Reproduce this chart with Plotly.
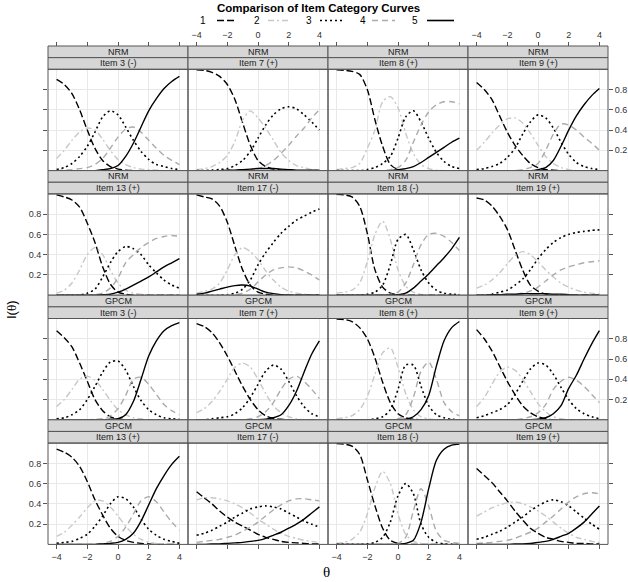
import plotly.graph_objects as go

# ---------------- data ----------------
theta = [-4, -3.5, -3, -2.5, -2, -1.5, -1, -0.5, 0, 0.5, 1, 1.5, 2, 2.5, 3, 3.5, 4]
categories = ["1", "2", "3", "4", "5"]
models = ["NRM"] * 8 + ["GPCM"] * 8
items = ["Item 3 (-)", "Item 7 (+)", "Item 8 (+)", "Item 9 (+)",
         "Item 13 (+)", "Item 17 (-)", "Item 18 (-)", "Item 19 (+)"] * 2
x_ticks = [-4, -2, 0, 2, 4]
y_ticks = [0.2, 0.4, 0.6, 0.8]

nrm_item3 = [
    [0.90, 0.85, 0.76, 0.60, 0.40, 0.22, 0.10, 0.04, 0.015, 0.005, 0, 0, 0, 0, 0, 0, 0],
    [0.12, 0.20, 0.30, 0.38, 0.42, 0.40, 0.31, 0.20, 0.11, 0.06, 0.03, 0.015, 0.01, 0.005, 0, 0, 0],
    [0.01, 0.03, 0.07, 0.14, 0.24, 0.38, 0.53, 0.59, 0.55, 0.43, 0.30, 0.19, 0.11, 0.06, 0.04, 0.02, 0.01],
    [0, 0.005, 0.01, 0.02, 0.03, 0.06, 0.12, 0.22, 0.33, 0.41, 0.43, 0.38, 0.30, 0.22, 0.15, 0.10, 0.06],
    [0, 0, 0, 0, 0, 0, 0.01, 0.02, 0.05, 0.14, 0.27, 0.43, 0.59, 0.71, 0.81, 0.88, 0.93],
]
nrm_item7 = [
    [0.995, 0.99, 0.97, 0.93, 0.85, 0.70, 0.47, 0.25, 0.10, 0.04, 0.015, 0.005, 0, 0, 0, 0, 0],
    [0.01, 0.02, 0.04, 0.08, 0.15, 0.29, 0.50, 0.59, 0.52, 0.42, 0.30, 0.18, 0.10, 0.05, 0.03, 0.01, 0.005],
    [0, 0, 0.005, 0.01, 0.02, 0.05, 0.10, 0.19, 0.32, 0.45, 0.55, 0.61, 0.63, 0.61, 0.55, 0.48, 0.40],
    [0, 0, 0, 0, 0, 0, 0.005, 0.01, 0.02, 0.05, 0.10, 0.17, 0.25, 0.34, 0.42, 0.52, 0.60],
    [0, 0, 0, 0, 0.005, 0.005, 0.01, 0.015, 0.02, 0.02, 0.02, 0.015, 0.01, 0.005, 0.005, 0.005, 0.005],
]
nrm_item8 = [
    [0.995, 0.99, 0.98, 0.95, 0.80, 0.50, 0.24, 0.06, 0.01, 0, 0, 0, 0, 0, 0, 0, 0],
    [0.01, 0.02, 0.03, 0.07, 0.22, 0.40, 0.68, 0.73, 0.62, 0.37, 0.17, 0.06, 0.02, 0.005, 0, 0, 0],
    [0, 0, 0, 0, 0.01, 0.03, 0.07, 0.14, 0.32, 0.53, 0.59, 0.48, 0.32, 0.18, 0.09, 0.04, 0.02],
    [0, 0, 0, 0, 0, 0, 0, 0.01, 0.03, 0.10, 0.28, 0.45, 0.58, 0.65, 0.68, 0.68, 0.66],
    [0, 0, 0, 0, 0, 0, 0, 0, 0.01, 0.02, 0.04, 0.08, 0.13, 0.18, 0.23, 0.28, 0.32],
]
nrm_item9 = [
    [0.87, 0.80, 0.70, 0.54, 0.38, 0.25, 0.15, 0.07, 0.03, 0.01, 0.005, 0, 0, 0, 0, 0, 0],
    [0.20, 0.28, 0.37, 0.45, 0.51, 0.52, 0.47, 0.37, 0.25, 0.14, 0.07, 0.03, 0.01, 0, 0, 0, 0],
    [0.01, 0.02, 0.04, 0.07, 0.13, 0.22, 0.36, 0.48, 0.55, 0.52, 0.42, 0.28, 0.16, 0.08, 0.04, 0.02, 0.01],
    [0, 0, 0, 0, 0, 0, 0.01, 0.03, 0.07, 0.20, 0.36, 0.46, 0.45, 0.40, 0.33, 0.27, 0.20],
    [0, 0, 0, 0, 0, 0, 0, 0, 0.01, 0.03, 0.10, 0.24, 0.40, 0.54, 0.65, 0.74, 0.81],
]
nrm_item13 = [
    [0.99, 0.97, 0.94, 0.87, 0.71, 0.52, 0.28, 0.11, 0.03, 0.01, 0, 0, 0, 0, 0, 0, 0],
    [0.02, 0.05, 0.12, 0.25, 0.40, 0.47, 0.40, 0.25, 0.12, 0.05, 0.02, 0.01, 0, 0, 0, 0, 0],
    [0, 0, 0, 0, 0.02, 0.06, 0.18, 0.32, 0.43, 0.48, 0.46, 0.40, 0.30, 0.22, 0.15, 0.10, 0.07],
    [0, 0, 0, 0, 0, 0.005, 0.02, 0.07, 0.17, 0.32, 0.40, 0.47, 0.52, 0.56, 0.58, 0.59, 0.58],
    [0, 0, 0, 0, 0, 0, 0.005, 0.01, 0.03, 0.06, 0.10, 0.14, 0.18, 0.23, 0.28, 0.32, 0.36],
]
nrm_item17 = [
    [0.99, 0.97, 0.95, 0.88, 0.72, 0.48, 0.25, 0.10, 0.03, 0.01, 0, 0, 0, 0, 0, 0, 0],
    [0.02, 0.04, 0.06, 0.12, 0.25, 0.40, 0.47, 0.43, 0.35, 0.24, 0.15, 0.08, 0.04, 0.02, 0.01, 0, 0],
    [0, 0, 0, 0, 0.005, 0.02, 0.06, 0.15, 0.30, 0.42, 0.52, 0.61, 0.68, 0.74, 0.78, 0.82, 0.85],
    [0, 0, 0, 0, 0, 0.005, 0.02, 0.06, 0.13, 0.20, 0.25, 0.27, 0.28, 0.27, 0.24, 0.20, 0.15],
    [0.01, 0.02, 0.04, 0.06, 0.08, 0.095, 0.10, 0.09, 0.06, 0.03, 0.015, 0.005, 0, 0, 0, 0, 0],
]
nrm_item18 = [
    [0.995, 0.99, 0.97, 0.88, 0.61, 0.25, 0.08, 0.02, 0.005, 0, 0, 0, 0, 0, 0, 0, 0],
    [0.02, 0.03, 0.05, 0.12, 0.33, 0.60, 0.73, 0.55, 0.25, 0.09, 0.03, 0.01, 0, 0, 0, 0, 0],
    [0, 0, 0, 0, 0.01, 0.03, 0.10, 0.30, 0.55, 0.60, 0.45, 0.25, 0.12, 0.05, 0.02, 0.01, 0.005],
    [0, 0, 0, 0, 0, 0, 0, 0.01, 0.03, 0.12, 0.30, 0.50, 0.60, 0.61, 0.58, 0.52, 0.44],
    [0, 0, 0, 0, 0, 0, 0, 0, 0.005, 0.02, 0.07, 0.14, 0.21, 0.29, 0.37, 0.46, 0.57],
]
nrm_item19 = [
    [0.96, 0.94, 0.88, 0.78, 0.65, 0.45, 0.25, 0.10, 0.04, 0.01, 0, 0, 0, 0, 0, 0, 0],
    [0.07, 0.10, 0.15, 0.22, 0.31, 0.39, 0.43, 0.40, 0.33, 0.25, 0.18, 0.12, 0.08, 0.05, 0.03, 0.02, 0.01],
    [0, 0, 0.01, 0.03, 0.05, 0.10, 0.16, 0.25, 0.36, 0.45, 0.52, 0.57, 0.60, 0.62, 0.63, 0.64, 0.645],
    [0, 0, 0, 0, 0, 0.01, 0.02, 0.04, 0.08, 0.14, 0.20, 0.25, 0.28, 0.30, 0.32, 0.33, 0.34],
    [0, 0, 0.005, 0.005, 0.01, 0.01, 0.015, 0.015, 0.015, 0.015, 0.01, 0.01, 0.005, 0, 0, 0, 0],
]
gpcm_item3 = [
    [0.88, 0.81, 0.72, 0.56, 0.38, 0.20, 0.09, 0.03, 0.01, 0, 0, 0, 0, 0, 0, 0, 0],
    [0.13, 0.20, 0.30, 0.40, 0.43, 0.39, 0.30, 0.19, 0.10, 0.05, 0.02, 0.01, 0, 0, 0, 0, 0],
    [0.01, 0.02, 0.05, 0.10, 0.20, 0.33, 0.47, 0.57, 0.58, 0.49, 0.33, 0.19, 0.10, 0.05, 0.02, 0.01, 0.005],
    [0, 0, 0, 0, 0, 0.005, 0.01, 0.04, 0.11, 0.24, 0.40, 0.42, 0.35, 0.25, 0.15, 0.09, 0.05],
    [0, 0, 0, 0, 0, 0, 0, 0.005, 0.01, 0.05, 0.18, 0.40, 0.63, 0.78, 0.88, 0.93, 0.96],
]
gpcm_item7 = [
    [0.95, 0.92, 0.86, 0.76, 0.63, 0.48, 0.33, 0.20, 0.10, 0.04, 0.015, 0.005, 0, 0, 0, 0, 0],
    [0.07, 0.11, 0.18, 0.28, 0.40, 0.52, 0.56, 0.52, 0.40, 0.26, 0.14, 0.07, 0.03, 0.01, 0, 0, 0],
    [0, 0, 0.01, 0.02, 0.03, 0.06, 0.12, 0.22, 0.35, 0.48, 0.54, 0.50, 0.38, 0.24, 0.13, 0.06, 0.03],
    [0, 0, 0, 0, 0, 0, 0, 0.01, 0.03, 0.08, 0.17, 0.30, 0.40, 0.43, 0.38, 0.30, 0.21],
    [0, 0, 0, 0, 0, 0, 0, 0, 0, 0.005, 0.02, 0.05, 0.14, 0.28, 0.47, 0.65, 0.78],
]
gpcm_item8 = [
    [0.995, 0.99, 0.97, 0.91, 0.80, 0.61, 0.37, 0.17, 0.06, 0.02, 0.005, 0, 0, 0, 0, 0, 0],
    [0.01, 0.02, 0.04, 0.10, 0.23, 0.45, 0.66, 0.71, 0.52, 0.26, 0.10, 0.03, 0.01, 0, 0, 0, 0],
    [0, 0, 0, 0, 0, 0.01, 0.03, 0.10, 0.30, 0.54, 0.54, 0.33, 0.14, 0.05, 0.02, 0.005, 0],
    [0, 0, 0, 0, 0, 0, 0, 0, 0.01, 0.05, 0.22, 0.48, 0.57, 0.40, 0.17, 0.08, 0.04],
    [0, 0, 0, 0, 0, 0, 0, 0, 0, 0.005, 0.03, 0.10, 0.24, 0.53, 0.78, 0.91, 0.97],
]
gpcm_item9 = [
    [0.89, 0.80, 0.68, 0.53, 0.38, 0.25, 0.14, 0.07, 0.03, 0.01, 0, 0, 0, 0, 0, 0, 0],
    [0.13, 0.22, 0.35, 0.47, 0.52, 0.49, 0.40, 0.28, 0.16, 0.08, 0.03, 0.01, 0, 0, 0, 0, 0],
    [0.02, 0.04, 0.07, 0.10, 0.15, 0.25, 0.38, 0.50, 0.56, 0.54, 0.45, 0.32, 0.20, 0.11, 0.06, 0.03, 0.01],
    [0, 0, 0, 0, 0, 0, 0.01, 0.03, 0.07, 0.15, 0.30, 0.38, 0.42, 0.39, 0.33, 0.25, 0.17],
    [0, 0, 0, 0, 0, 0, 0, 0, 0.005, 0.02, 0.06, 0.14, 0.31, 0.44, 0.60, 0.75, 0.88],
]
gpcm_item13 = [
    [0.94, 0.91, 0.86, 0.77, 0.62, 0.44, 0.29, 0.16, 0.08, 0.04, 0.02, 0.01, 0.005, 0, 0, 0, 0],
    [0.08, 0.12, 0.19, 0.27, 0.36, 0.43, 0.43, 0.37, 0.28, 0.18, 0.10, 0.05, 0.02, 0.01, 0, 0, 0],
    [0.01, 0.02, 0.03, 0.06, 0.10, 0.18, 0.28, 0.40, 0.47, 0.45, 0.37, 0.25, 0.15, 0.09, 0.05, 0.03, 0.01],
    [0, 0, 0, 0, 0, 0, 0.01, 0.03, 0.08, 0.17, 0.30, 0.43, 0.47, 0.42, 0.32, 0.22, 0.14],
    [0, 0, 0, 0, 0, 0, 0.005, 0.01, 0.02, 0.05, 0.11, 0.23, 0.39, 0.55, 0.68, 0.79, 0.87],
]
gpcm_item17 = [
    [0.52, 0.46, 0.40, 0.33, 0.27, 0.22, 0.18, 0.14, 0.10, 0.07, 0.05, 0.03, 0.02, 0.015, 0.01, 0.005, 0.005],
    [0.44, 0.46, 0.46, 0.45, 0.43, 0.40, 0.36, 0.31, 0.25, 0.20, 0.15, 0.11, 0.08, 0.06, 0.04, 0.03, 0.02],
    [0.09, 0.11, 0.14, 0.18, 0.22, 0.27, 0.31, 0.35, 0.37, 0.38, 0.37, 0.35, 0.31, 0.27, 0.23, 0.20, 0.17],
    [0.02, 0.03, 0.04, 0.05, 0.07, 0.09, 0.13, 0.17, 0.22, 0.28, 0.34, 0.39, 0.43, 0.45, 0.45, 0.44, 0.43],
    [0, 0, 0.005, 0.005, 0.01, 0.015, 0.02, 0.03, 0.04, 0.06, 0.09, 0.12, 0.16, 0.20, 0.25, 0.31, 0.37],
]
gpcm_item18 = [
    [0.995, 0.99, 0.97, 0.89, 0.64, 0.38, 0.16, 0.04, 0.01, 0, 0, 0, 0, 0, 0, 0, 0],
    [0.01, 0.02, 0.05, 0.12, 0.30, 0.56, 0.72, 0.60, 0.30, 0.10, 0.03, 0.01, 0, 0, 0, 0, 0],
    [0, 0, 0, 0, 0.005, 0.02, 0.07, 0.22, 0.48, 0.60, 0.50, 0.20, 0.07, 0.02, 0.005, 0, 0],
    [0, 0, 0, 0, 0, 0, 0, 0, 0.01, 0.07, 0.33, 0.55, 0.38, 0.13, 0.04, 0.02, 0.01],
    [0, 0, 0, 0, 0, 0, 0, 0, 0, 0.01, 0.04, 0.22, 0.55, 0.83, 0.94, 0.98, 0.99],
]
gpcm_item19 = [
    [0.75, 0.68, 0.61, 0.52, 0.43, 0.33, 0.24, 0.16, 0.11, 0.07, 0.05, 0.03, 0.02, 0.01, 0.01, 0.005, 0.005],
    [0.28, 0.32, 0.36, 0.39, 0.41, 0.42, 0.40, 0.37, 0.33, 0.28, 0.22, 0.16, 0.11, 0.07, 0.05, 0.03, 0.02],
    [0.05, 0.07, 0.10, 0.13, 0.17, 0.22, 0.27, 0.33, 0.38, 0.42, 0.44, 0.42, 0.38, 0.32, 0.26, 0.20, 0.15],
    [0.01, 0.015, 0.02, 0.03, 0.04, 0.06, 0.09, 0.12, 0.16, 0.22, 0.28, 0.35, 0.42, 0.47, 0.50, 0.51, 0.50],
    [0, 0, 0, 0, 0, 0.005, 0.005, 0.01, 0.02, 0.03, 0.05, 0.08, 0.11, 0.16, 0.22, 0.30, 0.38],
]

panels = [nrm_item3, nrm_item7, nrm_item8, nrm_item9,
          nrm_item13, nrm_item17, nrm_item18, nrm_item19,
          gpcm_item3, gpcm_item7, gpcm_item8, gpcm_item9,
          gpcm_item13, gpcm_item17, gpcm_item18, gpcm_item19]

# ---------------- styling / layout ----------------
W, H = 628, 582
SANS = "Liberation Sans, Arial, sans-serif"
SERIF = "Liberation Serif, Times New Roman, serif"
line_styles = [
    dict(color="#000000", dash="7px,3px", width=1.4),
    dict(color="#C8C8C8", dash="6px,3px,2px,3px", width=1.4),
    dict(color="#000000", dash="2px,3px", width=1.6),
    dict(color="#ABABAB", dash="6px,4px", width=1.4),
    dict(color="#000000", dash="solid", width=1.4),
]
COL_L = [48 + 140 * c for c in range(4)]
PW = 140
ROW_H = 124.6
STRIP_H = 11.65
X_RANGE = [-4.56, 4.56]


def fx(p):
    return p / W


def fy(p):
    return 1 - p / H


fig = go.Figure()
shapes = []
annotations = []
layout = {}

for p, data in enumerate(panels):
    r, c = divmod(p, 4)
    n = p + 1
    left, right = COL_L[c], COL_L[c] + PW
    strip_top = 46 + ROW_H * r
    plot_top = strip_top + 2 * STRIP_H
    plot_bot = strip_top + ROW_H
    xname = "xaxis" if n == 1 else f"xaxis{n}"
    yname = "yaxis" if n == 1 else f"yaxis{n}"
    xref = "x" if n == 1 else f"x{n}"
    yref = "y" if n == 1 else f"y{n}"

    xa = dict(domain=[fx(left), fx(right)], range=X_RANGE, tickvals=x_ticks,
              showgrid=True, gridcolor="#E8E8E8", gridwidth=1, zeroline=False,
              showline=False, anchor=yref, ticks="", showticklabels=False,
              tickfont=dict(family=SANS, size=9, color="#333333"),
              ticklen=4, tickcolor="#555555", fixedrange=True)
    if r == 3:
        xa.update(side="bottom", ticks="outside", showticklabels=(c in (0, 2)))
    elif r == 0:
        xa.update(anchor="free", position=fy(strip_top), side="top",
                  ticks="outside", showticklabels=(c in (1, 3)))
    ya = dict(domain=[fy(plot_bot), fy(plot_top)], range=[0, 1], tickvals=y_ticks,
              showgrid=True, gridcolor="#E8E8E8", gridwidth=1, zeroline=False,
              showline=False, anchor=xref, ticks="", showticklabels=False,
              tickfont=dict(family=SANS, size=9, color="#333333"),
              ticklen=4, tickcolor="#555555", fixedrange=True)
    if c == 0:
        ya.update(side="left", ticks="outside", showticklabels=(r in (1, 3)))
    elif c == 3:
        ya.update(side="right", ticks="outside", showticklabels=(r in (0, 2)))
    layout[xname] = xa
    layout[yname] = ya

    for k in range(5):
        fig.add_trace(go.Scatter(
            x=theta, y=data[k], mode="lines", xaxis=xref, yaxis=yref,
            line=dict(shape="spline", smoothing=0.8, **line_styles[k]),
            showlegend=False, hoverinfo="skip"))

    # strips
    for s, txt in enumerate([models[p], items[p]]):
        y0 = strip_top + s * STRIP_H
        shapes.append(dict(type="rect", xref="paper", yref="paper",
                           x0=fx(left), x1=fx(right), y0=fy(y0 + STRIP_H), y1=fy(y0),
                           fillcolor="#D6D6D6", line=dict(color="#555555", width=1),
                           layer="above"))
        annotations.append(dict(text=txt, xref="paper", yref="paper",
                                x=fx((left + right) / 2), y=fy(y0 + STRIP_H / 2),
                                xanchor="center", yanchor="middle", showarrow=False,
                                font=dict(family=SANS, size=9, color="#1A1A1A")))
    # panel border
    shapes.append(dict(type="rect", xref="paper", yref="paper",
                       x0=fx(left), x1=fx(right), y0=fy(plot_bot), y1=fy(plot_top),
                       line=dict(color="#555555", width=1), layer="above"))

# title
annotations.append(dict(text="<b>Comparison of Item Category Curves</b>",
                        xref="paper", yref="paper", x=fx(318), y=fy(8),
                        xanchor="center", yanchor="middle", showarrow=False,
                        font=dict(family=SANS, size=11.5, color="#000000")))
# key (label followed by line sample)
key_label_x = [203, 257, 309, 363, 415]
key_line_x = [(217, 236), (268, 288), (320, 343), (372, 395), (427, 454)]
KEY_Y = 20.5
for k in range(5):
    annotations.append(dict(text=categories[k], xref="paper", yref="paper",
                            x=fx(key_label_x[k]), y=fy(KEY_Y), xanchor="center",
                            yanchor="middle", showarrow=False,
                            font=dict(family=SANS, size=10, color="#000000")))
    st = line_styles[k]
    shapes.append(dict(type="line", xref="paper", yref="paper",
                       x0=fx(key_line_x[k][0]), x1=fx(key_line_x[k][1]),
                       y0=fy(KEY_Y), y1=fy(KEY_Y),
                       line=dict(color=st["color"], dash=st["dash"], width=1.6)))

# axis titles
annotations.append(dict(text="I(<span style='font-family:Liberation Serif'>θ</span>)",
                        xref="paper", yref="paper", x=fx(11), y=fy(310),
                        xanchor="center", yanchor="middle", textangle=-90,
                        showarrow=False, font=dict(family=SANS, size=13, color="#000000")))
annotations.append(dict(text="θ", xref="paper", yref="paper", x=fx(326), y=fy(572),
                        xanchor="center", yanchor="middle", showarrow=False,
                        font=dict(family=SERIF, size=15, color="#000000")))

fig.update_layout(width=W, height=H, margin=dict(l=0, r=0, t=0, b=0),
                  paper_bgcolor="white", plot_bgcolor="white",
                  shapes=shapes, annotations=annotations, showlegend=False,
                  **layout)
# remove the page's default body margin so the figure sits at the window origin
fig.write_html("out.html",
               config={"displayModeBar": False},
               post_script="document.body.style.margin='0px';"
                           "document.body.style.overflow='hidden';")
